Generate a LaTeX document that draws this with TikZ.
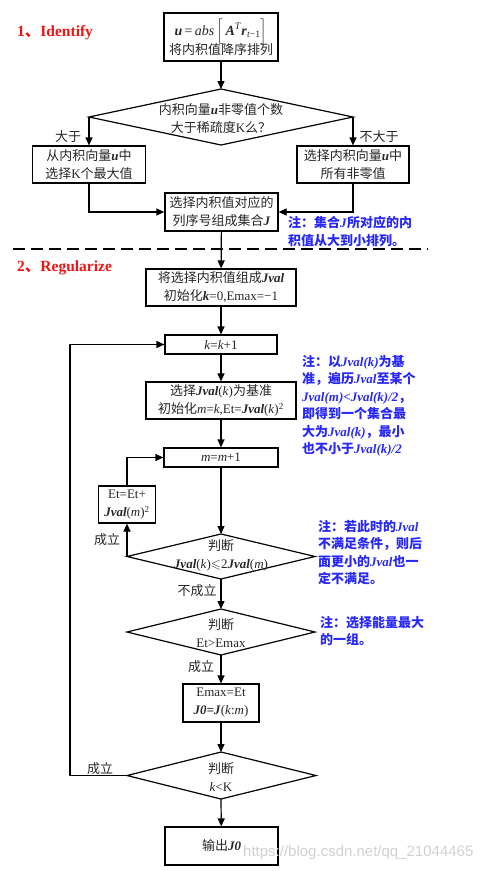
\documentclass[tikz,border=0pt]{standalone}
\usepackage{fontspec}
\usepackage{amsmath,amssymb,bm}
\setmainfont{Liberation Serif}
\newfontfamily\cjfont{Noto Sans CJK SC}
\newfontfamily\wmfont{Liberation Sans}
\usetikzlibrary{arrows.meta}
\definecolor{noteblue}{RGB}{40,40,250}
\definecolor{titred}{RGB}{240,20,20}
\newcommand\zh[1]{{\cjfont #1}}
\newcommand\bi[1]{\textbf{\textit{#1}}}
\newcommand\fs{\fontsize{13}{18}\selectfont}
\begin{document}
\begin{tikzpicture}[x=1pt,y=-1pt,
  box/.style={draw, line width=1.2pt, align=center, inner sep=0pt, font=\fs, text=black!85},
  arr/.style={line width=1.2pt, -{Triangle[length=8pt,width=7pt]}},
  ln/.style={line width=1.2pt},
  lbl/.style={font=\fs, text=black!85, inner sep=0pt, align=center},
  note/.style={font=\fontsize{13}{17.5}\selectfont\bfseries, text=noteblue, align=left, anchor=north west, inner sep=0pt},
  ttl/.style={font=\fontsize{15.5}{17}\selectfont\bfseries, text=titred, anchor=west, inner sep=0pt}]
\useasboundingbox (0,0) rectangle (484,871);

% titles
\node[ttl] (t1) at (17,33) {1\zh{、}Identify};
\node[ttl] (t2) at (17,268) {2\zh{、}Regularize};

% part 1
\node[box, minimum width=114pt, minimum height=48pt] (b1) at (221,37)
  {{\fontsize{14}{18}\selectfont\bi{u}\,=\,\textit{abs}\,$\Bigl[$\,\bi{A}\textsuperscript{\textit{T}}\bi{r}\textsubscript{\textit{t}−1}$\Bigr]$}\\[-2pt]\zh{将内积值降序排列}};

\coordinate (d1) at (221,117);
\coordinate (d1n) at (221,89);
\coordinate (d1s) at (221,145);
\coordinate (d1w) at (89,117);
\coordinate (d1e) at (353,117);
\draw[ln] (d1n) -- (d1e) -- (d1s) -- (d1w) -- cycle;
\node[lbl] (d1t) at (221,119) {\zh{内积向量}\bi{u}\zh{非零值个数}\\\zh{大于稀疏度}K\zh{么？}};

\node[box, minimum width=113pt, minimum height=37pt] (lb) at (89,164.5)
  {\zh{从内积向量}\bi{u}\zh{中}\\\zh{选择}K\zh{个最大值}};
\node[box, minimum width=112pt, minimum height=37pt] (rb) at (353,164.5)
  {\zh{选择内积向量}\bi{u}\zh{中}\\\zh{所有非零值}};
\node[box, minimum width=113pt, minimum height=38pt] (jb) at (221.5,212)
  {\zh{选择内积值对应的}\\\zh{列序号组成集合}\bi{J}};

\node[lbl] (l1) at (68,137) {\zh{大于}};
\node[lbl] (l2) at (379,137) {\zh{不大于}};

\draw[arr] (b1) -- (d1n);
\draw[arr] (d1w) -- (lb.north);
\draw[arr] (d1e) -- (rb.north);
\draw[arr] (lb.south) |- (jb.west);
\draw[arr] (rb.south) |- (jb.east);

\node[note] (n1) at (288,216) {\zh{注：集合}\bi{J}\zh{所对应的内}\\\zh{积值从大到小排列。}};

% separator
\coordinate (s1) at (13,249);
\coordinate (s2) at (428,249);
\draw[line width=1.3pt, dash pattern=on 12pt off 6pt] (s1) -- (s2);

% part 2
\node[box, minimum width=150pt, minimum height=37pt] (jv) at (221,287.5)
  {\zh{将选择内积值组成}\bi{Jval}\\\zh{初始化}\bi{k}=0,Emax=−1};
\node[box, minimum width=112pt, minimum height=19pt] (kb) at (221,344.5)
  {\textit{k}=\textit{k}+1};
\node[box, minimum width=150pt, minimum height=37pt] (jk) at (221,400.5)
  {\zh{选择}\bi{Jval}(\textit{k})\zh{为基准}\\\zh{初始化}\textit{m}=\textit{k},Et=\bi{Jval}(\textit{k})\textsuperscript{2}};
\node[box, minimum width=114pt, minimum height=19pt] (mb) at (221,457.5)
  {\textit{m}=\textit{m}+1};
\node[box, minimum width=57pt, minimum height=37pt] (eb) at (127,504.5)
  {Et=Et+\\\bi{Jval}(\textit{m})\textsuperscript{2}};

\coordinate (d2) at (221,556.5);
\coordinate (d2n) at (221,534);
\coordinate (d2s) at (221,579);
\coordinate (d2w) at (127,556.5);
\coordinate (d2e) at (315,556.5);
\draw[ln] (d2n) -- (d2e) -- (d2s) -- (d2w) -- cycle;
\node[lbl] (d2t) at (221,555) {\zh{判断}\\\bi{Jval}(\textit{k})$\leqslant$2\bi{Jval}(\textit{m})};

\coordinate (d3) at (221,632);
\coordinate (d3n) at (221,609);
\coordinate (d3s) at (221,655);
\coordinate (d3w) at (127,632);
\coordinate (d3e) at (315,632);
\draw[ln] (d3n) -- (d3e) -- (d3s) -- (d3w) -- cycle;
\node[lbl] (d3t) at (221,633) {\zh{判断}\\Et\textgreater Emax};

\node[box, minimum width=76pt, minimum height=38pt] (emb) at (221,703)
  {Emax=Et\\\bi{J0=J}(\textit{k}:\textit{m})};

\coordinate (d4) at (221,775.5);
\coordinate (d4n) at (221,752);
\coordinate (d4s) at (221,799);
\coordinate (d4w) at (127,775.5);
\coordinate (d4e) at (316,775.5);
\draw[ln] (d4n) -- (d4e) -- (d4s) -- (d4w) -- cycle;
\node[lbl] (d4t) at (221,777) {\zh{判断}\\\textit{k}\textless K};

\node[box, minimum width=113pt, minimum height=38pt] (ob) at (221.5,846)
  {\zh{输出}\bi{J0}};

% labels
\node[lbl] (l3) at (107,540) {\zh{成立}};
\node[lbl] (l4) at (197,591) {\zh{不成立}};
\node[lbl] (l5) at (201,667) {\zh{成立}};
\node[lbl] (l6) at (100,769) {\zh{成立}};

% connectors part 2
\draw[arr] (jb) -- (jv);
\draw[arr] (jv) -- (kb);
\draw[arr] (kb) -- (jk);
\draw[arr] (jk) -- (mb);
\draw[arr] (mb) -- (d2n);
\draw[arr] (d2w) -- (eb.south);
\draw[arr] (eb.north) |- (mb.west);
\draw[arr] (d2s) -- (d3n);
\draw[arr] (d3s) -- (emb);
\draw[arr] (emb) -- (d4n);
\draw[arr] (d4s) -- (ob);
\coordinate (lp) at (70,775.5);
\draw[arr] (d4w) -- (lp) |- (kb.west);

% notes
\node[note] (n2) at (302,355) {\zh{注：以}\bi{Jval(k)}\zh{为基}\\\zh{准，遍历}\bi{Jval}\zh{至某个}\\\bi{Jval(m)\textless Jval(k)/2}\zh{，}\\\zh{即得到一个集合最}\\\zh{大为}\bi{Jval(k)}\zh{，最小}\\\zh{也不小于}\bi{Jval(k)/2}};
\node[note] (n3) at (318,520) {\zh{注：若此时的}\bi{Jval}\\\zh{不满足条件，则后}\\\zh{面更小的}\bi{Jval}\zh{也一}\\\zh{定不满足。}};
\node[note] (n4) at (320,616) {\zh{注：选择能量最大}\\\zh{的一组。}};

% watermark
\node[font=\wmfont\fontsize{15}{15}\selectfont, text=black!18, anchor=west, inner sep=0pt] (wm) at (243,853) {https://blog.csdn.net/qq\_21044465};
\end{tikzpicture}
\end{document}
